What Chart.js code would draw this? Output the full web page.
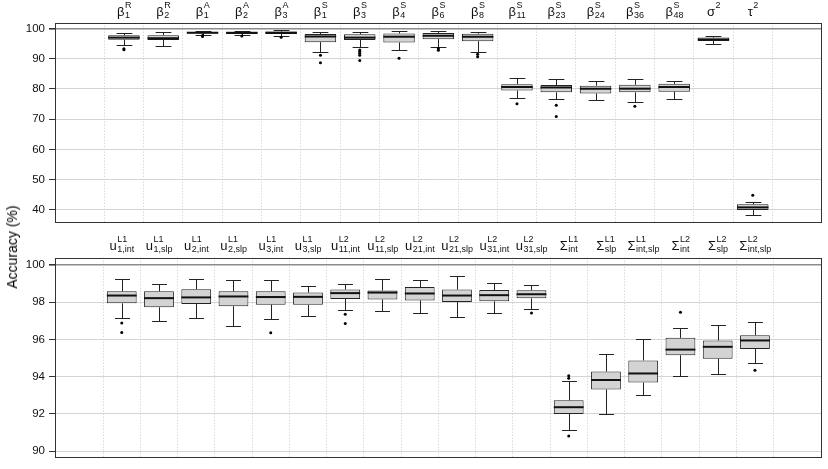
<!DOCTYPE html>
<html>
<head>
<meta charset="utf-8">
<script src="https://cdn.jsdelivr.net/npm/chart.js@4.4.0/dist/chart.umd.min.js"></script>
<style>
	html, body { margin: 0; padding: 0; background: #fff; }
	#wrap { position: relative; width: 828px; height: 469px; overflow: hidden; }
	#cTop { position: absolute; left: 0; top: 0; }
	#cBot { position: absolute; left: 0; top: 234px; }
	#ylab {
		position: absolute; left: 12px; top: 247px;
		transform: translate(-50%, -50%) rotate(-90deg);
		font: normal 14px "Liberation Sans", Arial, sans-serif; color: #000; white-space: nowrap;
	}
</style>
</head>
<body>
<div id="wrap">
	<canvas id="cTop" width="828" height="234"></canvas>
	<canvas id="cBot" width="828" height="235"></canvas>
	<div id="ylab">Accuracy (%)</div>
</div>
<script>
"use strict";

// ---- top panel: fixed effects + variances
const topBase = ["β","β","β","β","β","β","β","β","β","β","β","β","β","β","β","σ","τ"];
const topSup = ["R","R","A","A","A","S","S","S","S","S","S","S","S","S","S","2","2"];
const topSub = ["1","2","1","2","3","1","3","4","6","8","11","23","24","36","48","",""];
const topLo  = [94.4, 94.2, 97.9, 97.8, 97.6, 92.4, 93.8, 93.0, 94.0, 92.4, 77.0, 76.8, 76.4, 75.8, 76.8, 94.9, 38.3];
const topQ1  = [96.3, 96.2, 98.4, 98.2, 98.2, 95.5, 96.2, 95.4, 96.5, 95.8, 79.5, 78.9, 78.5, 78.9, 79.1, 95.9, 39.9];
const topMed = [97.0, 96.8, 98.6, 98.6, 98.6, 97.4, 97.0, 97.3, 97.6, 97.3, 80.65, 80.5, 80.1, 80.1, 80.65, 96.4, 40.8];
const topQ3  = [97.8, 97.8, 98.9, 98.9, 99.0, 98.2, 98.1, 98.4, 98.5, 98.3, 81.6, 81.3, 81.1, 81.4, 81.7, 97.0, 41.8];
const topHi  = [98.5, 98.8, 99.3, 99.3, 99.4, 98.9, 98.9, 99.1, 99.1, 98.9, 83.6, 83.4, 82.8, 83.2, 82.8, 97.5, 42.6];
const topOut = [[93.3, 93.0], [], [97.7, 97.4], [97.5], [97.1], [91.2, 88.7], [92.9, 92.4, 91.8, 91.2, 89.4],
	[90.2], [93.4, 92.8], [91.5, 90.7], [75.1], [74.6, 70.9], [], [74.3], [], [], [44.8]];
const topTicks = [40, 50, 60, 70, 80, 90, 100];

// ---- bottom panel: random effects
const botBase = ["u","u","u","u","u","u","u","u","u","u","u","u","Σ","Σ","Σ","Σ","Σ","Σ"];
const botSup = ["L1","L1","L1","L1","L1","L1","L2","L2","L2","L2","L2","L2","L1","L1","L1","L2","L2","L2"];
const botSub = ["1,int","1,slp","2,int","2,slp","3,int","3,slp","11,int","11,slp","21,int","21,slp","31,int","31,slp",
	"int","slp","int,slp","int","slp","int,slp"];
const botLo  = [97.13, 96.97, 97.16, 96.71, 97.11, 97.23, 97.56, 97.50, 97.44, 97.22, 97.41, 97.64, 91.16, 92.01, 93.03, 94.03, 94.15, 94.73];
const botQ1  = [97.93, 97.72, 97.90, 97.78, 97.86, 97.85, 98.17, 98.14, 98.09, 98.00, 98.04, 98.20, 92.00, 93.31, 93.68, 95.15, 94.96, 95.48];
const botMed = [98.35, 98.21, 98.25, 98.30, 98.27, 98.28, 98.48, 98.51, 98.46, 98.35, 98.37, 98.42, 92.36, 93.82, 94.17, 95.45, 95.60, 95.94];
const botQ3  = [98.58, 98.58, 98.69, 98.58, 98.58, 98.51, 98.67, 98.62, 98.81, 98.67, 98.65, 98.63, 92.73, 94.27, 94.87, 96.08, 95.94, 96.22];
const botHi  = [99.26, 98.98, 99.26, 99.16, 99.19, 98.84, 98.99, 99.26, 99.21, 99.39, 99.00, 98.93, 93.78, 95.20, 96.04, 96.62, 96.78, 96.92];
const botOut = [[96.88, 96.37], [], [], [], [96.36], [], [97.34, 96.85], [], [], [], [], [97.41],
	[94.05, 93.91, 90.81], [], [], [97.46], [], [94.34]];
const botTicks = [90, 92, 94, 96, 98, 100];

const FONT = '"Liberation Sans", Arial, sans-serif';

function drawMathLabel(ctx, x, y, base, sup, sub) {
	ctx.font = "13px " + FONT;
	const bw = ctx.measureText(base).width;
	ctx.font = "9px " + FONT;
	const sw = Math.max(ctx.measureText(sup).width, ctx.measureText(sub).width);
	const left = x - (bw + sw) / 2;
	ctx.font = "13px " + FONT;
	ctx.fillText(base, left, y);
	ctx.font = "9px " + FONT;
	ctx.fillText(sup, left + bw + 0.5, y - 7.5);
	if (sub) ctx.fillText(sub, left + bw + 0.5, y + 2.5);
}

function makePanel(canvasId, p) {
	const idx = p.base.map((_, i) => i);
	const boxes = idx.map(i => ({ x: i, y: [p.q1[i], p.q3[i]] }));
	const pts = [];
	idx.forEach(i => p.out[i].forEach(v => pts.push({ x: i, y: v })));

	const extras = {
		id: 'extras',
		beforeDatasetsDraw(chart) {
			const ctx = chart.ctx, xs = chart.scales.x, ys = chart.scales.y;
			const hw = (xs.getPixelForValue(1) - xs.getPixelForValue(0)) * 0.4;
			ctx.save();
			ctx.strokeStyle = "#222";
			ctx.lineWidth = 1;
			idx.forEach(i => {
				const xc = Math.round(xs.getPixelForValue(i)) + 0.5;
				const yl = Math.round(ys.getPixelForValue(p.lo[i])) + 0.5;
				const yh = Math.round(ys.getPixelForValue(p.hi[i])) + 0.5;
				ctx.beginPath();
				ctx.moveTo(xc, yh); ctx.lineTo(xc, ys.getPixelForValue(p.q3[i]));
				ctx.moveTo(xc, yl); ctx.lineTo(xc, ys.getPixelForValue(p.q1[i]));
				ctx.moveTo(xc - hw / 2, yh); ctx.lineTo(xc + hw / 2, yh);
				ctx.moveTo(xc - hw / 2, yl); ctx.lineTo(xc + hw / 2, yl);
				ctx.stroke();
			});
			ctx.restore();
		},
		afterDatasetsDraw(chart) {
			const ctx = chart.ctx, xs = chart.scales.x, ys = chart.scales.y;
			const hw = (xs.getPixelForValue(1) - xs.getPixelForValue(0)) * 0.4;
			ctx.save();
			ctx.strokeStyle = "#111";
			ctx.lineWidth = 2;
			idx.forEach(i => {
				const xc = xs.getPixelForValue(i);
				const ym = ys.getPixelForValue(p.med[i]);
				ctx.beginPath();
				ctx.moveTo(xc - hw, ym); ctx.lineTo(xc + hw, ym);
				ctx.stroke();
			});
			ctx.restore();
		},
		afterDraw(chart) {
			const ctx = chart.ctx, a = chart.chartArea, xs = chart.scales.x;
			ctx.save();
			ctx.strokeStyle = "#333";
			ctx.lineWidth = 1;
			ctx.strokeRect(Math.round(a.left) + 0.5, Math.round(a.top) + 0.5,
				Math.round(a.right - a.left) - 1, Math.round(a.bottom - a.top) - 1);
			ctx.fillStyle = "#111";
			ctx.textAlign = "left";
			ctx.textBaseline = "alphabetic";
			idx.forEach(i => drawMathLabel(ctx, xs.getPixelForValue(i), p.labelY, p.base[i], p.sup[i], p.sub[i]));
			ctx.restore();
		}
	};

	return new Chart(document.getElementById(canvasId), {
		type: 'bar',
		data: {
			datasets: [
				{
					type: 'scatter', data: pts, pointRadius: 1.5, pointHoverRadius: 1.5,
					backgroundColor: '#000', borderWidth: 0, order: 0
				},
				{
					type: 'bar', data: boxes, backgroundColor: '#d3d3d3', borderColor: '#222',
					borderWidth: 1, borderSkipped: false, barPercentage: 0.8, categoryPercentage: 1.0, order: 1
				}
			]
		},
		plugins: [extras],
		options: {
			responsive: false,
			animation: false,
			events: [],
			layout: { padding: p.padding },
			plugins: { legend: { display: false }, tooltip: { enabled: false } },
			scales: {
				x: {
					type: 'linear', min: p.xMin, max: p.xMax,
					afterBuildTicks: s => { s.ticks = idx.map(v => ({ value: v })); },
					afterFit: s => { s.height = 0; },
					ticks: { display: false },
					grid: { color: '#c8c8c8', lineWidth: 1, drawTicks: false },
					border: { display: false, dash: [1, 2] }
				},
				y: {
					type: 'linear', min: p.yMin, max: p.yMax,
					afterBuildTicks: s => { s.ticks = p.ticks.map(v => ({ value: v })); },
					afterFit: s => { s.width = 55; },
					ticks: { color: '#111', font: { size: 11.5, family: FONT }, padding: 4 },
					grid: {
						color: c => (c.tick && c.tick.value === 100) ? '#8c8c8c' : '#d4d4d4',
						lineWidth: c => (c.tick && c.tick.value === 100) ? 1.6 : 1,
						tickColor: '#333', tickLength: 6
					},
					border: { display: false }
				}
			}
		}
	});
}

makePanel('cTop', {
	base: topBase, sup: topSup, sub: topSub,
	lo: topLo, q1: topQ1, med: topMed, q3: topQ3, hi: topHi, out: topOut, ticks: topTicks,
	xMin: -1.18, xMax: 17.18, yMin: 35.6, yMax: 101.94,
	padding: { top: 22.7, right: 6.3, bottom: 5.7, left: 0 },
	labelY: 15.8
});

makePanel('cBot', {
	base: botBase, sup: botSup, sub: botSub,
	lo: botLo, q1: botQ1, med: botMed, q3: botQ3, hi: botHi, out: botOut, ticks: botTicks,
	xMin: -1.22, xMax: 18.22, yMin: 89.63, yMax: 100.38,
	padding: { top: 23.7, right: 6.3, bottom: 6.7, left: 0 },
	labelY: 15.5
});
</script>
</body>
</html>
